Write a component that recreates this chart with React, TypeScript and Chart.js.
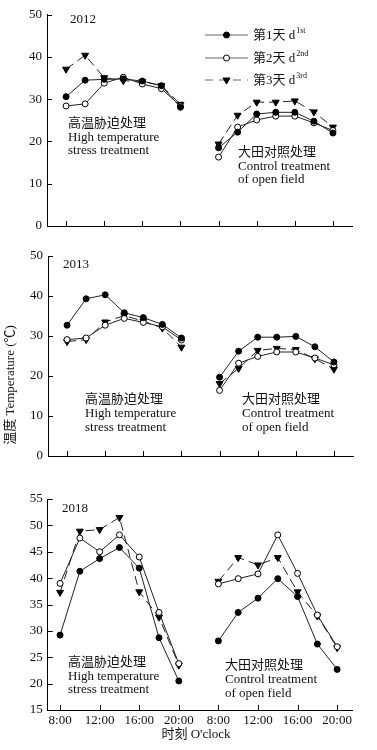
import React, { useEffect, useRef } from "react";
import { Chart, registerables } from "chart.js";
Chart.register(...registerables);

// ---------- data ----------
const hours = [8, 10, 12, 14, 16, 18, 20];
const controlOffset = 16; // control block is placed after a 4-hour gap on the shared axis
const xTickValues = [8, 12, 16, 20, 24, 28, 32, 36];
const seriesNames = ["第1天 d", "第2天 d", "第3天 d"];
const seriesSup = ["1st", "2nd", "3rd"];

const heat2012D1 = [30.6, 34.5, 34.7, 34.8, 34.3, 33.2, 28.1];
const heat2012D2 = [28.4, 28.9, 33.8, 35.2, 33.6, 32.5, 28.4];
const heat2012D3 = [37.1, 40.4, 35.1, 34.4, 34.2, 33.2, 28.8];
const ctrl2012D1 = [18.5, 22.2, 26.5, 26.9, 26.9, 24.8, 22.0];
const ctrl2012D2 = [16.3, 23.4, 25.1, 26.0, 26.0, 24.4, 22.6];
const ctrl2012D3 = [19.4, 26.2, 29.3, 29.3, 29.6, 27.0, 23.4];

const heat2013D1 = [32.7, 39.3, 40.3, 35.8, 34.6, 32.9, 29.5];
const heat2013D2 = [29.1, 29.5, 32.7, 34.4, 33.4, 32.3, 29.0];
const heat2013D3 = [28.6, 29.1, 33.5, 35.1, 33.7, 32.0, 27.2];
const ctrl2013D1 = [19.7, 26.2, 29.7, 29.7, 29.9, 27.3, 23.5];
const ctrl2013D2 = [16.4, 23.2, 24.9, 26.0, 26.0, 24.5, 22.8];
const ctrl2013D3 = [18.1, 21.9, 26.4, 26.9, 26.6, 24.3, 21.7];

const heat2018D1 = [29.2, 41.3, 43.7, 45.8, 41.9, 28.7, 20.5];
const heat2018D2 = [39.0, 47.6, 45.0, 48.2, 44.0, 33.5, 23.8];
const heat2018D3 = [37.3, 48.9, 49.2, 51.5, 37.4, 32.6, 23.5];
const ctrl2018D1 = [28.1, 33.5, 36.2, 39.9, 36.5, 27.5, 22.7];
const ctrl2018D2 = [38.9, 39.9, 40.8, 48.2, 40.9, 33.0, 27.0];
const ctrl2018D3 = [39.4, 43.9, 42.5, 43.9, 37.4, 32.8, 26.8];

const heatLabel = ["高温胁迫处理", "High temperature", "stress treatment"];
const ctrlLabel = ["大田对照处理", "Control treatment", "of open field"];
const yTitle = "温度 Temperature (℃)";
const xTitle = "时刻 O'clock";

// ---------- styles ----------
const FONT = '"Liberation Serif", "Times New Roman", "Noto Sans CJK SC", serif';
const LINE = "#222";

function fmtHour(v: number) {
  const h = v > 20 ? v - controlOffset : v;
  return `${h}:00`;
}

function buildData(heat: number[], ctrl: number[]) {
  const a = hours.map((h, j) => ({ x: h, y: heat[j] }));
  const b = hours.map((h, j) => ({ x: h + controlOffset, y: ctrl[j] }));
  return [...a, { x: 22, y: null as any }, ...b];
}

function drawMarker(ctx: CanvasRenderingContext2D, kind: number, x: number, y: number) {
  ctx.save();
  ctx.lineWidth = 1;
  ctx.strokeStyle = "#000";
  if (kind === 0 || kind === 1) {
    ctx.beginPath();
    ctx.arc(x, y, 3, 0, Math.PI * 2);
    ctx.fillStyle = kind === 0 ? "#000" : "#fff";
    ctx.fill();
    ctx.stroke();
  } else {
    const r = 4;
    ctx.beginPath();
    ctx.moveTo(x - r * 0.866, y - r * 0.5);
    ctx.lineTo(x + r * 0.866, y - r * 0.5);
    ctx.lineTo(x, y + r);
    ctx.closePath();
    ctx.fillStyle = "#000";
    ctx.fill();
    ctx.stroke();
  }
  ctx.restore();
}

type PanelProps = {
  top: number;
  height: number;
  padTop: number;
  padRight: number;
  axisLeft: number;
  xScaleHeight: number;
  xMin: number;
  xMax: number;
  yMin: number;
  yMax: number;
  yStep: number;
  showXLabels: boolean;
  heat: number[][];
  ctrl: number[][];
  year: string;
  yearPos: [number, number];
  heatPos: [number, number];
  ctrlPos: [number, number];
  legend?: boolean;
  yTitlePos?: [number, number];
  xTitlePos?: [number, number];
};

function Panel(p: PanelProps) {
  const ref = useRef<HTMLCanvasElement | null>(null);
  useEffect(() => {
    if (!ref.current) return;
    const yTicks: number[] = [];
    for (let v = p.yMin; v <= p.yMax + 1e-9; v += p.yStep) yTicks.push(v);

    const overlay = {
      id: "overlay",
      afterDraw(chart: any) {
        const ctx = chart.ctx as CanvasRenderingContext2D;
        const area = chart.chartArea;
        const xs = chart.scales.x;
        const ys = chart.scales.y;
        ctx.save();
        // inward tick marks
        ctx.strokeStyle = "#000";
        ctx.lineWidth = 1;
        ctx.beginPath();
        yTicks.forEach((v) => {
          const y = Math.round(ys.getPixelForValue(v)) + 0.5;
          ctx.moveTo(area.left, y);
          ctx.lineTo(area.left + 5, y);
        });
        xTickValues.forEach((v) => {
          const x = Math.round(xs.getPixelForValue(v)) + 0.5;
          ctx.moveTo(x, area.bottom);
          ctx.lineTo(x, area.bottom - 5);
        });
        ctx.stroke();

        ctx.fillStyle = "#111";
        ctx.font = `13px ${FONT}`;
        ctx.textBaseline = "middle";
        ctx.textAlign = "left";
        // year
        ctx.fillText(p.year, p.yearPos[0], p.yearPos[1] - p.top);
        // annotations
        heatLabel.forEach((t, i) => ctx.fillText(t, p.heatPos[0], p.heatPos[1] - p.top + i * 13.7));
        ctrlLabel.forEach((t, i) => ctx.fillText(t, p.ctrlPos[0], p.ctrlPos[1] - p.top + i * 13.7));

        // legend
        if (p.legend) {
          const rows = [35, 58, 80];
          rows.forEach((ry, i) => {
            const y = ry - p.top;
            ctx.save();
            ctx.strokeStyle = "#666";
            ctx.lineWidth = 1.2;
            if (i === 2) ctx.setLineDash([8, 6]);
            ctx.beginPath();
            ctx.moveTo(205, y);
            ctx.lineTo(248, y);
            ctx.stroke();
            ctx.restore();
            drawMarker(ctx, i, 226.5, y);
            ctx.fillStyle = "#111";
            ctx.font = `13px ${FONT}`;
            ctx.fillText(seriesNames[i], 253, y + 1);
            const w = ctx.measureText(seriesNames[i]).width;
            ctx.font = `8px ${FONT}`;
            ctx.fillText(seriesSup[i], 253 + w + 1, y - 4);
          });
        }
        // axis titles
        ctx.font = `13px ${FONT}`;
        ctx.fillStyle = "#111";
        if (p.yTitlePos) {
          ctx.save();
          ctx.translate(p.yTitlePos[0], p.yTitlePos[1] - p.top);
          ctx.rotate(-Math.PI / 2);
          ctx.textAlign = "center";
          ctx.fillText(yTitle, 0, 0);
          ctx.restore();
        }
        if (p.xTitlePos) {
          ctx.textAlign = "center";
          ctx.fillText(xTitle, p.xTitlePos[0], p.xTitlePos[1] - p.top);
        }
        ctx.restore();
      },
    };

    const ds = [0, 1, 2].map((i) => {
      const base: any = {
        label: seriesNames[i] + seriesSup[i],
        data: buildData(p.heat[i], p.ctrl[i]),
        borderColor: LINE,
        borderWidth: 1,
        spanGaps: false,
        pointBorderColor: "#000",
        pointBorderWidth: 1,
        pointHoverRadius: 3,
      };
      if (i === 0) {
        Object.assign(base, { pointStyle: "circle", pointRadius: 3, pointBackgroundColor: "#000" });
      } else if (i === 1) {
        Object.assign(base, { pointStyle: "circle", pointRadius: 3, pointBackgroundColor: "#fff" });
      } else {
        Object.assign(base, {
          pointStyle: "triangle",
          pointRotation: 180,
          pointRadius: 4,
          pointBackgroundColor: "#000",
          borderDash: [9, 5],
        });
      }
      return base;
    });

    const chart = new Chart(ref.current, {
      type: "line",
      data: { datasets: ds },
      options: {
        responsive: false,
        animation: false,
        layout: { padding: { top: p.padTop, right: p.padRight, left: 0, bottom: 0 } },
        plugins: { legend: { display: false }, tooltip: { enabled: false } },
        scales: {
          x: {
            type: "linear",
            min: p.xMin,
            max: p.xMax,
            afterBuildTicks: (s: any) => {
              s.ticks = xTickValues.map((v) => ({ value: v }));
            },
            afterFit: (s: any) => {
              s.height = p.xScaleHeight;
            },
            grid: { display: false, drawTicks: false },
            border: { display: true, color: "#000", width: 1 },
            ticks: {
              display: p.showXLabels,
              autoSkip: false,
              maxRotation: 0,
              padding: 3,
              color: "#111",
              font: { family: FONT, size: 13 },
              callback: (v: any) => fmtHour(Number(v)),
            },
          },
          y: {
            type: "linear",
            min: p.yMin,
            max: p.yMax,
            afterBuildTicks: (s: any) => {
              s.ticks = yTicks.map((v) => ({ value: v }));
            },
            afterFit: (s: any) => {
              s.width = p.axisLeft;
            },
            grid: { display: false, drawTicks: false },
            border: { display: true, color: "#000", width: 1 },
            ticks: {
              padding: 5,
              color: "#111",
              font: { family: FONT, size: 13 },
              callback: (v: any) => String(v),
            },
          },
        },
      } as any,
      plugins: [overlay],
    });
    return () => chart.destroy();
  }, []);
  return (
    <canvas
      ref={ref}
      width={377}
      height={p.height}
      style={{ position: "absolute", left: 0, top: p.top, width: 377, height: p.height, display: "block" }}
    />
  );
}

export default function App() {
  return (
    <div style={{ position: "absolute", left: 0, top: 0, width: 377, height: 750, background: "#fff" }}>
      <Panel
        top={0}
        height={240}
        padTop={14.7}
        padRight={25}
        axisLeft={47}
        xScaleHeight={14}
        xMin={6}
        xMax={38}
        yMin={0}
        yMax={50}
        yStep={10}
        showXLabels={false}
        heat={[heat2012D1, heat2012D2, heat2012D3]}
        ctrl={[ctrl2012D1, ctrl2012D2, ctrl2012D3]}
        year="2012"
        yearPos={[70, 20]}
        heatPos={[68, 123.5]}
        ctrlPos={[238, 152.5]}
        legend
      />
      <Panel
        top={240}
        height={240}
        padTop={16}
        padRight={24}
        axisLeft={48}
        xScaleHeight={24}
        xMin={6}
        xMax={38}
        yMin={0}
        yMax={50}
        yStep={10}
        showXLabels={false}
        heat={[heat2013D1, heat2013D2, heat2013D3]}
        ctrl={[ctrl2013D1, ctrl2013D2, ctrl2013D3]}
        year="2013"
        yearPos={[63, 265]}
        heatPos={[85, 400]}
        ctrlPos={[242, 400]}
        yTitlePos={[11, 385]}
      />
      <Panel
        top={480}
        height={270}
        padTop={19}
        padRight={25}
        axisLeft={47.7}
        xScaleHeight={40}
        xMin={6.75}
        xMax={37.5}
        yMin={15}
        yMax={55}
        yStep={5}
        showXLabels={true}
        heat={[heat2018D1, heat2018D2, heat2018D3]}
        ctrl={[ctrl2018D1, ctrl2018D2, ctrl2018D3]}
        year="2018"
        yearPos={[62, 509]}
        heatPos={[68, 662.5]}
        ctrlPos={[225, 666]}
        xTitlePos={[196, 735]}
      />
    </div>
  );
}
